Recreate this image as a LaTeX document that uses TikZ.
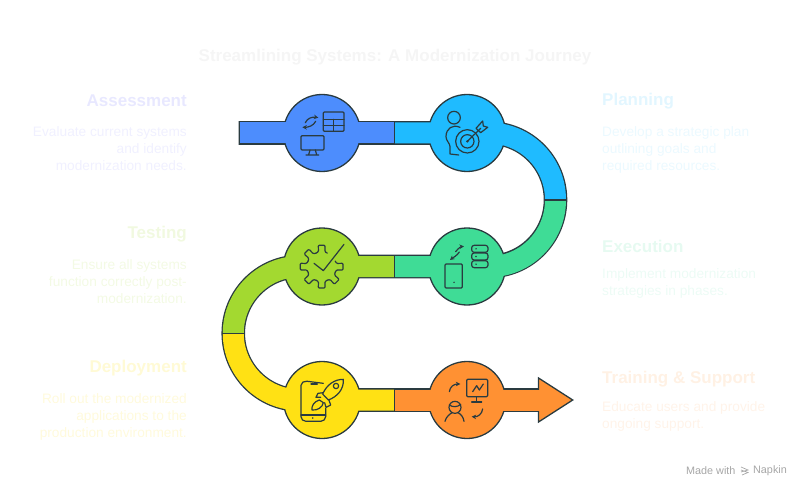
\documentclass[tikz,border=0pt]{standalone}
\usepackage{fontspec}
\setmainfont{Liberation Sans}
\usepackage{xcolor}
\usetikzlibrary{backgrounds, positioning, arrows.meta}
\definecolor{ink}{HTML}{2A3B40}
\definecolor{blueband}{HTML}{4D8DFD}
\definecolor{cyanband}{HTML}{1FBBFF}
\definecolor{greenband}{HTML}{3FDC96}
\definecolor{limeband}{HTML}{A3D930}
\definecolor{yellowband}{HTML}{FFE114}
\definecolor{orangeband}{HTML}{FF9133}
\begin{document}
\begin{tikzpicture}[
				x=1pt, y=-1pt,
				node distance=145pt,
				stop/.style={circle, draw=ink, line width=1.3pt, minimum size=77pt, inner sep=0pt},
				bandedge/.style={draw=ink, line width=23.6pt},
				bandfill/.style={line width=21pt},
				cut/.style={draw=ink, line width=1.3pt},
				icon/.style={draw=ink, line width=1.2pt, line cap=round, line join=round},
				tip/.style={-{Stealth[length=4.5pt,width=4.5pt]}},
				head/.style={font=\fontsize{17}{20}\selectfont\bfseries, inner sep=0pt},
				bodyleft/.style={font=\fontsize{13.7}{16.7}\selectfont, align=right, anchor=north east, inner sep=0pt},
				bodyright/.style={font=\fontsize{13.7}{16.7}\selectfont, align=left, anchor=north west, inner sep=0pt}]

			\useasboundingbox (0,0) rectangle (800,489);

			% the six stops
			\node[stop, fill=blueband] (assessment) at (322,133) {};
			\node[stop, fill=cyanband, right of=assessment] (planning) {};
			\node[stop, fill=greenband, below of=planning, node distance=133.5pt] (execution) {};
			\node[stop, fill=limeband, left of=execution] (testing) {};
			\node[stop, fill=yellowband, below of=testing, node distance=133.5pt] (deployment) {};
			\node[stop, fill=orangeband, right of=deployment] (training) {};

			\coordinate (start) at (238.5,133);
			\coordinate (cut1) at (394.5,133);
			\coordinate (cut2) at (555.5,200);
			\coordinate (cut3) at (394.5,266.5);
			\coordinate (cut4) at (233.25,333.25);
			\coordinate (cut5) at (394.5,400);
			\coordinate (shaft) at (538.5,400);

			% outline of the road goes under the stops
			\begin{scope}[on background layer]
				\draw[bandedge] (start) -- (planning.center) -- ++(21.75,0) arc[start angle=90, end angle=-90, radius=66.75pt] -- (testing.center) -- ++(-22,0) arc[start angle=90, end angle=270, radius=66.75pt] -- (shaft);
			\end{scope}

			\fill[orangeband, draw=ink, line width=1.3pt, line join=miter] (538.5,378) -- (572.7,400) -- (538.5,422) -- cycle;

			\draw[bandfill, blueband] ([xshift=1.2pt]start) -- (assessment.center) -- (cut1);
			\draw[bandfill, cyanband] (cut1) -- (planning.center) -- ++(21.75,0) arc[start angle=90, end angle=0, radius=66.75pt];
			\draw[bandfill, greenband] (cut2) arc[start angle=0, end angle=-90, radius=66.75pt] -- (execution.center) -- (cut3);
			\draw[bandfill, limeband] (cut3) -- (testing.center) -- ++(-22,0) arc[start angle=90, end angle=180, radius=66.75pt];
			\draw[bandfill, yellowband] (cut4) arc[start angle=180, end angle=270, radius=66.75pt] -- (deployment.center) -- (cut5);
			\draw[bandfill, orangeband] (cut5) -- (training.center) -- ([xshift=1.5pt]shaft);

			\draw[cut] ([yshift=11.4pt]cut1) -- ([yshift=-11.4pt]cut1);
			\draw[cut] ([xshift=11.4pt]cut2) -- ([xshift=-11.4pt]cut2);
			\draw[cut] ([yshift=11.4pt]cut3) -- ([yshift=-11.4pt]cut3);
			\draw[cut] ([xshift=11.4pt]cut4) -- ([xshift=-11.4pt]cut4);
			\draw[cut] ([yshift=11.4pt]cut5) -- ([yshift=-11.4pt]cut5);

			% icons of the upper row, typed in 3x crop units
			\begin{scope}[shift={(230,80)}, scale=1/3]
				\draw[icon, rounded corners=1pt] (280,96) rectangle (342,154);
				\draw[icon] (280,118) -- (342,118) (280,136) -- (342,136) (311,118) -- (311,154);
				\draw[icon, tip] (226,128) .. controls (232,114) and (248,110) .. (265,113);
				\draw[icon, tip] (257,124) .. controls (250,138) and (234,142) .. (217,142);
				\draw[icon, rounded corners=1pt] (213,167) rectangle (282,210);
				\draw[icon] (240,210) -- (236,224) (256,210) -- (260,224) (228,225) -- (266,225);

				\draw[icon] (672,113) circle[radius=19];
				\draw[icon] (690,142) .. controls (668,132) and (648,145) .. (648,170) .. controls (648,182) and (660,190) .. (660,200) -- (660,222) -- (686,225);
				\draw[icon] (712,184) circle[radius=35] (712,184) circle[radius=20];
				\fill[ink] (712,184) circle[radius=4];
				\draw[icon] (712,184) -- (752,145);
				\draw[icon] (738,145) -- (758,123) -- (760,138) -- (773,142) -- (752,158) -- (738,145);
			\end{scope}

			% icons of the two lower rows
			\begin{scope}[shift={(210,220)}, scale=1/3]
				\draw[icon, rounded corners=1pt] (705,132) rectangle (757,204);
				\fill[ink] (732,187) circle[radius=2.5];
				\draw[icon, tip] (737,95) .. controls (745,85) and (752,80) .. (762,79);
				\draw[icon, tip] (748,96) .. controls (740,108) and (730,112) .. (720,120);
				\foreach \row in {76,99,122}{
					\draw[icon, rounded corners=2.5pt] (785,\row) rectangle (834,\row+21);
					\fill[ink] (798,\row+10.5) circle[radius=2.5];
				}

				\foreach \a in {0,45,90,135,180,225,270}{
					\draw[icon, rounded corners=1pt] ({335+44*cos(\a-22.5)},{140+44*sin(\a-22.5)}) -- ({335+46*cos(\a-12)},{140+46*sin(\a-12)}) -- ({335+65*cos(\a-9)},{140+65*sin(\a-9)}) -- ({335+65*cos(\a+9)},{140+65*sin(\a+9)}) -- ({335+46*cos(\a+12)},{140+46*sin(\a+12)}) -- ({335+44*cos(\a+22.5)},{140+44*sin(\a+22.5)});
				}
				\draw[icon] (312,130) -- (340,152) -- (402,73);

				\draw[icon, rounded corners=2pt] (340,490) -- (285,483) -- (273,490) -- (273,596) -- (282,604) -- (338,604) -- (347,596) -- (347,565);
				\draw[icon] (273,585) -- (347,585) (303,492) -- (322,492);
				\fill[ink] (308,594) circle[radius=2.5];
				\draw[icon] (400,478) .. controls (372,478) and (350,495) .. (338,522) -- (355,540) .. controls (382,530) and (402,508) .. (400,478);
				\draw[icon] (378,498) circle[radius=8];
				\draw[icon] (340,518) -- (324,520) -- (318,532) -- (332,532);
				\draw[icon] (356,538) -- (362,555) -- (348,562) -- (344,548);
				\draw[icon] (328,540) .. controls (312,545) and (304,558) .. (306,570) .. controls (322,572) and (338,562) .. (340,548) -- cycle;

				\draw[icon, rounded corners=1pt] (770,478) rectangle (833,530);
				\draw[icon] (788,515) -- (800,497) -- (808,510) -- (820,492);
				\draw[icon] (800,530) -- (800,546) (785,546) -- (815,546);
				\draw[icon, tip] (718,515) .. controls (720,500) and (732,492) .. (751,492);
				\draw[icon, tip] (818,567) .. controls (816,582) and (804,591) .. (785,590);
				\draw[icon] (735,562) circle[radius=18];
				\draw[icon] (718,555) .. controls (728,562) and (742,562) .. (752,553);
				\draw[icon] (705,604) .. controls (708,590) and (720,582) .. (726,578) (744,578) .. controls (752,582) and (760,590) .. (762,604);
			\end{scope}

			% title and the texts on both sides
			\node[font=\fontsize{17}{20}\selectfont\bfseries, text=black!4, inner sep=0pt] (title) at (395,57) {Streamlining Systems: A Modernization Journey};

			\node[head, anchor=east, text=blue!9] (assessmenthead) at (187,101) {Assessment};
			\node[bodyleft, text=blue!6] (assessmentbody) at (187,126.5) {Evaluate current systems\\and identify\\modernization needs.};
			\node[head, anchor=east, text=limeband!15] (testinghead) at (187,234) {Testing};
			\node[bodyleft, text=limeband!13] (testingbody) at (187,259.5) {Ensure all systems\\function correctly post-\\modernization.};
			\node[head, anchor=east, text=yellowband!18] (deploymenthead) at (187,368) {Deployment};
			\node[bodyleft, text=yellowband!15] (deploymentbody) at (187,393.5) {Roll out the modernized\\applications to the\\production environment.};

			\node[head, anchor=west, text=cyanband!13] (planninghead) at (602,101) {Planning};
			\node[bodyright, text=cyanband!9] (planningbody) at (602,126.5) {Develop a strategic plan\\outlining goals and\\required resources.};
			\node[head, anchor=west, text=greenband!13] (executionhead) at (602,246) {Execution};
			\node[bodyright, text=greenband!10] (executionbody) at (602,268.5) {Implement modernization\\strategies in phases.};
			\node[head, anchor=west, text=orangeband!13] (traininghead) at (602,379) {Training \& Support};
			\node[bodyright, text=orangeband!11] (trainingbody) at (602,401.5) {Educate users and provide\\ongoing support.};

			\node[font=\fontsize{10.8}{12}\selectfont, text=black!35, anchor=west, inner sep=0pt] (made) at (686,471) {Made with};
			\node[font=\fontsize{10.8}{12}\selectfont, text=black!35, anchor=east, inner sep=0pt] (napkin) at (787,471) {Napkin};
			\draw[black!35, line width=.7pt] (741,467) -- (748,470) -- (741,472) (741,470) -- (748,472.5) -- (742,475);
		\end{tikzpicture}
\end{document}
